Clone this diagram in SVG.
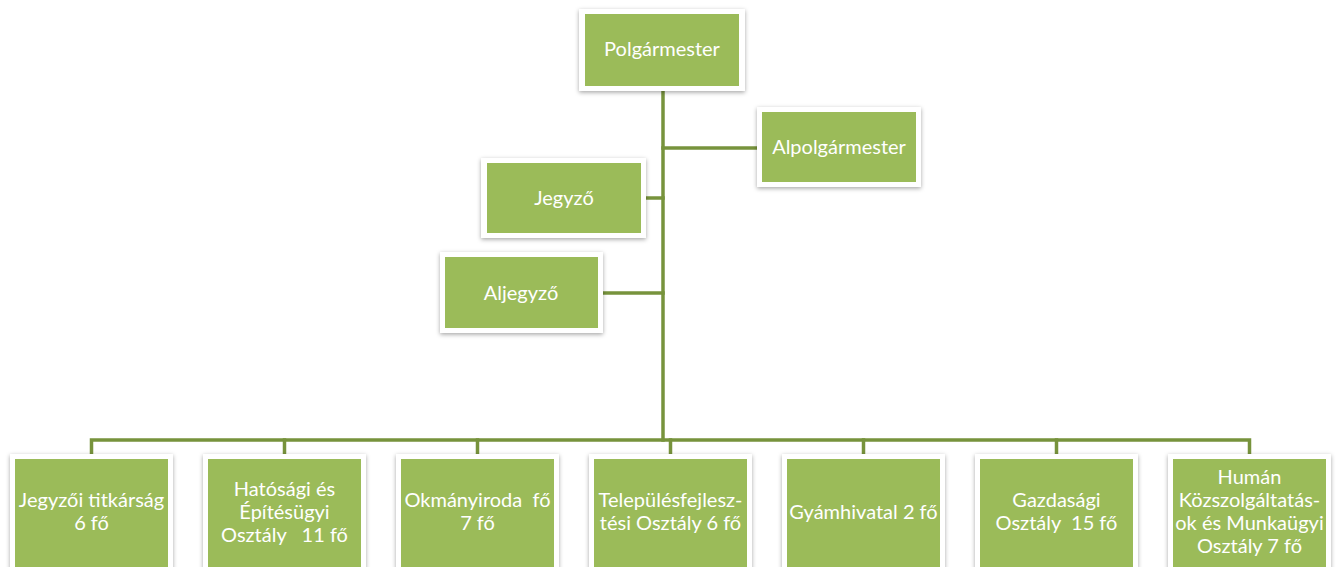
<svg xmlns="http://www.w3.org/2000/svg" width="1336" height="567" viewBox="0 0 1336 567">
  <defs>
    <filter id="shadow" x="-10%" y="-10%" width="120%" height="130%">
      <feDropShadow dx="0" dy="1.5" stdDeviation="2" flood-color="#000" flood-opacity="0.35"/>
    </filter>
  </defs>
  <style>
    .frame { fill: #ffffff; filter: url(#shadow); }
    .box { fill: #9BBB59; }
    .lbl { font-family: Lato, "Open Sans", sans-serif; font-size: 20px; fill: #ffffff; text-anchor: middle; white-space: pre; }
    .conn { stroke: #77933C; stroke-width: 3.5; fill: none; stroke-linecap: square; }
  </style>
  <rect width="1336" height="567" fill="#ffffff"/>

  <!-- connectors -->
  <g id="connectors" class="conn">
    <path d="M663 91 V440"/>
    <path d="M663 148 H757"/>
    <path d="M646 198 H663"/>
    <path d="M603 293 H663"/>
    <path d="M91.5 454 V440 H1249.5 V454"/>
    <path d="M284.5 440 V454"/>
    <path d="M477.5 440 V454"/>
    <path d="M670.5 440 V454"/>
    <path d="M863.5 440 V454"/>
    <path d="M1056.5 440 V454"/>
  </g>

  <!-- upper tier -->
  <g id="polgarmester">
    <rect class="frame" x="579" y="9" width="166" height="82"/>
    <rect class="box" x="585" y="14" width="154" height="72"/>
    <text class="lbl" x="662" y="56">Polgármester</text>
  </g>
  <g id="alpolgarmester">
    <rect class="frame" x="757" y="107" width="164" height="80"/>
    <rect class="box" x="762" y="112" width="154" height="70"/>
    <text class="lbl" x="839" y="154">Alpolgármester</text>
  </g>
  <g id="jegyzo">
    <rect class="frame" x="481" y="158" width="165" height="80"/>
    <rect class="box" x="487" y="163" width="154" height="70"/>
    <text class="lbl" x="564" y="205">Jegyző</text>
  </g>
  <g id="aljegyzo">
    <rect class="frame" x="440" y="252" width="163" height="81"/>
    <rect class="box" x="445" y="257" width="153" height="71"/>
    <text class="lbl" x="521" y="300">Aljegyző</text>
  </g>

  <!-- departments -->
  <g id="jegyzoi-titkarsag">
    <rect class="frame" x="10" y="454" width="163" height="125"/>
    <rect class="box" x="15" y="459" width="153" height="115"/>
    <text class="lbl" x="91.5" y="507">Jegyzői titkárság</text>
    <text class="lbl" x="91.5" y="530">6 fő</text>
  </g>
  <g id="hatosagi">
    <rect class="frame" x="203" y="454" width="163" height="125"/>
    <rect class="box" x="208" y="459" width="153" height="115"/>
    <text class="lbl" x="284.5" y="496">Hatósági és</text>
    <text class="lbl" x="284.5" y="519">Építésügyi</text>
    <text class="lbl" x="284.5" y="542">Osztály   11 fő</text>
  </g>
  <g id="okmanyiroda">
    <rect class="frame" x="396" y="454" width="163" height="125"/>
    <rect class="box" x="401" y="459" width="153" height="115"/>
    <text class="lbl" x="477.5" y="507">Okmányiroda  fő</text>
    <text class="lbl" x="477.5" y="530">7 fő</text>
  </g>
  <g id="telepulesfejlesztesi">
    <rect class="frame" x="589" y="454" width="163" height="125"/>
    <rect class="box" x="594" y="459" width="153" height="115"/>
    <text class="lbl" x="670.5" y="507">Településfejlesz-</text>
    <text class="lbl" x="670.5" y="530">tési Osztály 6 fő</text>
  </g>
  <g id="gyamhivatal">
    <rect class="frame" x="782" y="454" width="163" height="125"/>
    <rect class="box" x="787" y="459" width="153" height="115"/>
    <text class="lbl" x="863.5" y="519">Gyámhivatal 2 fő</text>
  </g>
  <g id="gazdasagi">
    <rect class="frame" x="975" y="454" width="163" height="125"/>
    <rect class="box" x="980" y="459" width="153" height="115"/>
    <text class="lbl" x="1056.5" y="507">Gazdasági</text>
    <text class="lbl" x="1056.5" y="530">Osztály  15 fő</text>
  </g>
  <g id="human">
    <rect class="frame" x="1168" y="454" width="163" height="125"/>
    <rect class="box" x="1173" y="459" width="153" height="115"/>
    <text class="lbl" x="1249.5" y="484">Humán</text>
    <text class="lbl" x="1249.5" y="507">Közszolgáltatás-</text>
    <text class="lbl" x="1249.5" y="530">ok és Munkaügyi</text>
    <text class="lbl" x="1249.5" y="553">Osztály 7 fő</text>
  </g>
</svg>
